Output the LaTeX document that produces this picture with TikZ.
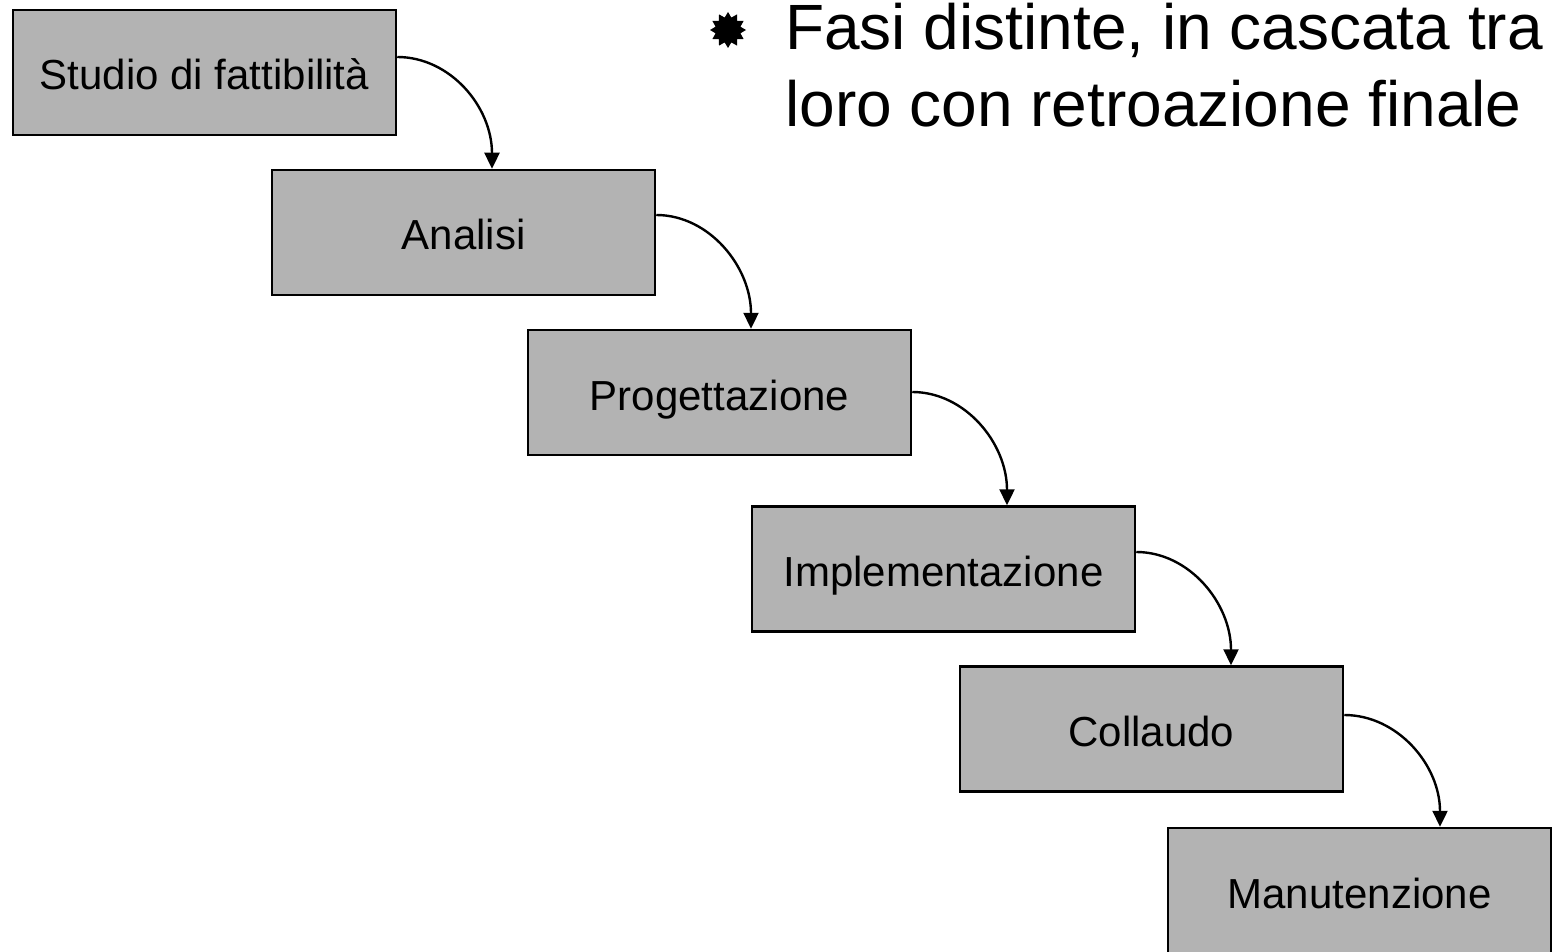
\documentclass[tikz,border=0pt]{standalone}
\usepackage{fontspec}
\setmainfont{Liberation Sans}
\usetikzlibrary{shapes.geometric,arrows.meta}
\begin{document}
\begin{tikzpicture}[x=1pt,y=-1pt,
  phase/.style={draw=black, line width=2.5pt, fill=boxgray, minimum width=383pt, minimum height=125pt,
    inner sep=0pt, font=\fontsize{42}{50}\selectfont, text height=35pt, text depth=0pt},
  flow/.style={line width=2.4pt, -{Triangle[length=16pt,width=15pt]}},
  bul/.style={font=\fontsize{64}{76}\selectfont, anchor=base west, inner sep=0pt}]
\definecolor{boxgray}{RGB}{179,179,179}
\useasboundingbox (0,0) rectangle (1553,952);
\node[phase] (b1) at (204.5,72.5) {Studio di fattibilità};
\node[phase] (b2) at (463.5,232.5) {Analisi};
\node[phase] (b3) at (719.5,392.5) {Progettazione};
\node[phase] (b4) at (943.5,569) {Implementazione};
\node[phase] (b5) at (1151.5,729) {Collaudo};
\node[phase] (b6) at (1359.5,890.5) {Manutenzione};
\draw[flow] ([yshift=15.5pt]b1.east) .. controls +(53,0) and +(0,-62) .. ([xshift=28.5pt]b2.north);
\draw[flow] ([yshift=17.5pt]b2.east) .. controls +(53,0) and +(0,-62) .. ([xshift=31.5pt]b3.north);
\draw[flow] ([yshift=0.5pt]b3.east) .. controls +(53,0) and +(0,-62) .. ([xshift=63.5pt]b4.north);
\draw[flow] ([yshift=17pt]b4.east) .. controls +(53,0) and +(0,-62) .. ([xshift=79.5pt]b5.north);
\draw[flow] ([yshift=14pt]b5.east) .. controls +(53,0) and +(0,-62) .. ([xshift=80.5pt]b6.north);
\node[star, star points=12, star point ratio=1.4, fill=black, minimum size=36pt, inner sep=0pt] (bullet) at (728,30) {};
\node[bul] (l1) at (785,50) {Fasi distinte, in cascata tra};
\node[bul] (l2) at (785,127) {loro con retroazione finale};
\end{tikzpicture}
\end{document}
